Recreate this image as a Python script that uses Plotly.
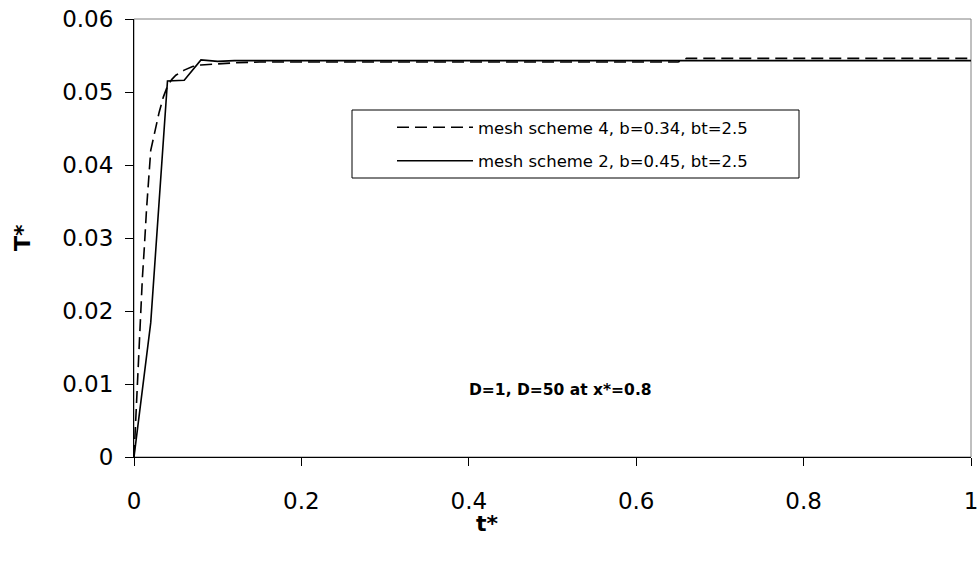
import plotly.graph_objects as go

# mesh scheme 2 (solid)
t_mesh2 = [0.0, 0.02, 0.04, 0.06, 0.08, 0.10, 0.12, 1.0]
T_mesh2 = [0.0, 0.0184, 0.0515, 0.0516, 0.0544, 0.0542, 0.0543, 0.0543]

# mesh scheme 4 (dashed)
t_mesh4 = [0.0, 0.0025, 0.005, 0.0075, 0.01, 0.0125, 0.015, 0.02, 0.025, 0.03,
           0.035, 0.04, 0.045, 0.05, 0.06, 0.07, 0.08, 0.10, 0.12, 0.15, 0.65, 0.66, 1.0]
T_mesh4 = [0.0, 0.0065, 0.0125, 0.019, 0.0245, 0.029, 0.034, 0.042, 0.0446, 0.0472,
           0.0493, 0.0508, 0.0517, 0.0523, 0.053, 0.0535, 0.0537, 0.0539, 0.054, 0.0541,
           0.0541, 0.0546, 0.0546]

x_ticks = [0, 0.2, 0.4, 0.6, 0.8, 1]
x_tick_labels = ["0", "0.2", "0.4", "0.6", "0.8", "1"]
y_ticks = [0, 0.01, 0.02, 0.03, 0.04, 0.05, 0.06]
y_tick_labels = ["0", "0.01", "0.02", "0.03", "0.04", "0.05", "0.06"]

name4 = "mesh scheme 4, b=0.34, bt=2.5"
name2 = "mesh scheme 2, b=0.45, bt=2.5"
note = "<b>D=1, D=50 at x*=0.8</b>"

FONT = "DejaVu Sans, Liberation Sans, Arial, sans-serif"

W, H = 978, 568
L, R, T, B = 134, 7, 19, 111
PW = W - L - R          # plot width in px
PH = H - T - B          # plot height in px


def px_x(xp):   # page x pixel -> paper x
    return (xp - L) / PW


def px_y(yp):   # page y pixel -> paper y
    return (H - B - yp) / PH


fig = go.Figure()
fig.add_trace(go.Scatter(x=t_mesh4, y=T_mesh4, mode="lines", name=name4, legendgroup="a",
                         line=dict(color="black", width=1.6, dash="12px,6px")))
fig.add_trace(go.Scatter(x=t_mesh2, y=T_mesh2, mode="lines", name=name2, legendgroup="b",
                         line=dict(color="black", width=1.6)))

fig.update_layout(
    width=W, height=H,
    margin=dict(l=L, r=R, t=T, b=B),
    paper_bgcolor="white", plot_bgcolor="white",
    font=dict(family=FONT, color="black"),
    showlegend=True,
    legend=dict(x=px_x(392), y=px_y(110), xanchor="left", yanchor="top",
                bgcolor="rgba(0,0,0,0)", borderwidth=0,
                font=dict(size=16.5, family=FONT), itemwidth=76,
                tracegroupgap=9),
    xaxis=dict(range=[0, 1], tickvals=x_ticks, ticktext=x_tick_labels,
               showgrid=False, zeroline=False, showline=True, linecolor="black", linewidth=1,
               ticks="outside", ticklen=8, tickcolor="black", automargin=False,
               ticklabeloverflow="allow",
               tickfont=dict(size=23, family=FONT), ticklabelstandoff=15),
    yaxis=dict(range=[0, 0.06], tickvals=y_ticks, ticktext=y_tick_labels,
               showgrid=False, zeroline=False, showline=True, linecolor="black", linewidth=1,
               ticks="outside", ticklen=8, tickcolor="black", automargin=False,
               ticklabeloverflow="allow",
               tickfont=dict(size=23, family=FONT), ticklabelstandoff=7),
    shapes=[
        dict(type="rect", xref="paper", yref="paper", x0=0, y0=0, x1=1, y1=1,
             line=dict(color="#808080", width=1), layer="below"),
        dict(type="rect", xref="paper", yref="paper",
             x0=px_x(352), x1=px_x(799), y0=px_y(178), y1=px_y(110),
             line=dict(color="black", width=1), layer="above"),
    ],
    annotations=[
        dict(text="<b>T*</b>", xref="paper", yref="paper", x=px_x(22), y=0.5,
             textangle=-90, showarrow=False, font=dict(size=22, family=FONT),
             xanchor="center", yanchor="middle"),
        dict(text="<b>t*</b>", xref="paper", yref="paper", x=px_x(487),
             y=px_y(523), showarrow=False, font=dict(size=22, family=FONT),
             xanchor="center", yanchor="middle"),
        dict(text=note, xref="x", yref="y", x=0.51, y=0.0092, showarrow=False,
             font=dict(size=15.5, family=FONT), xanchor="center", yanchor="middle"),
    ],
)

fig.write_html("out.html", config={"displayModeBar": False},
               post_script="document.body.style.margin='0';")
